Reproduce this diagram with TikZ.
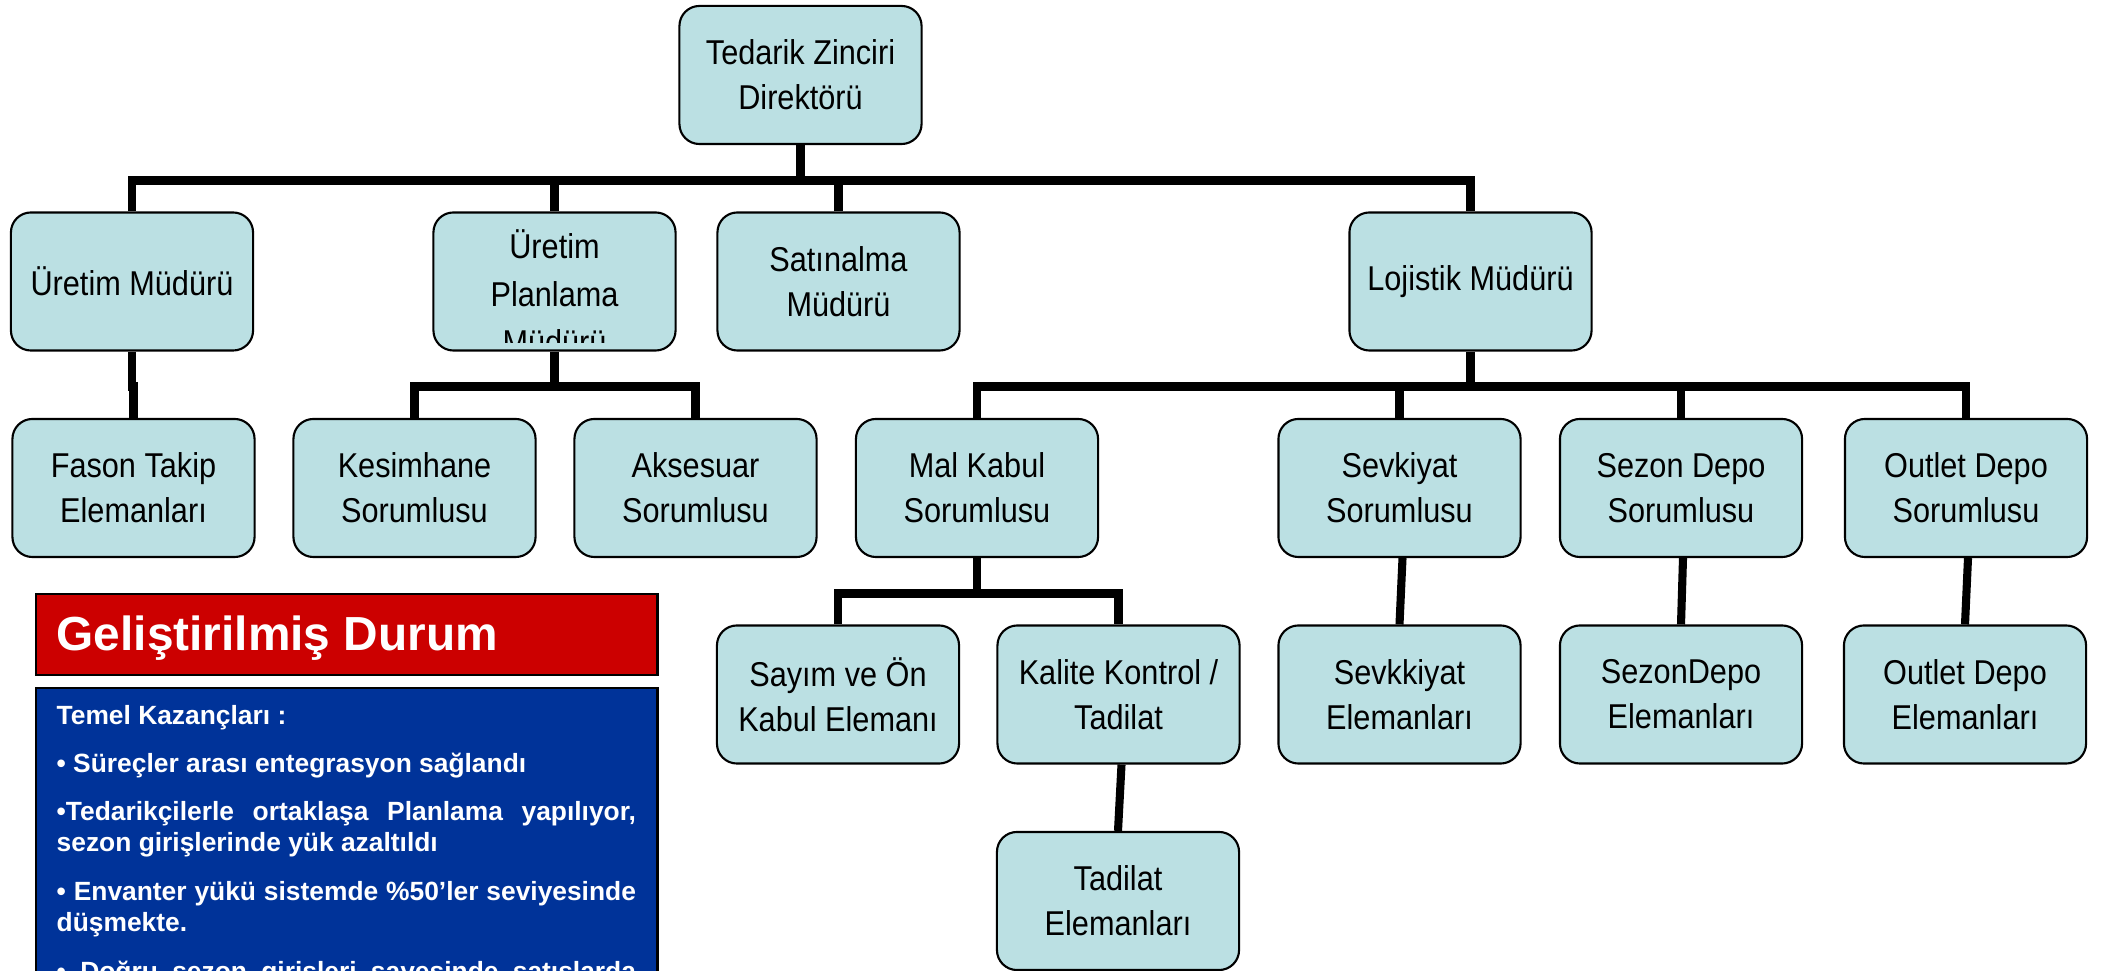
\documentclass[tikz,border=0pt]{standalone}
\usepackage{fontspec}
\setmainfont{Liberation Sans}
\newfontfamily\boxfont[FakeStretch=0.89]{Liberation Sans}
\definecolor{boxfill}{RGB}{187,224,227}
\definecolor{titlered}{RGB}{204,0,0}
\definecolor{panelblue}{RGB}{0,51,153}
\begin{document}
\begin{tikzpicture}[x=0.01cm,y=-0.01cm,
  unit/.style={draw=black, line width=0.6pt, fill=boxfill, rounded corners=0.2cm,
    minimum width=2.42cm, minimum height=1.38cm, inner sep=0pt, align=center,
    font=\boxfont\fontsize{9.8}{12.8}\selectfont},
  unittext/.style={anchor=base, inner sep=0pt, font=\boxfont\fontsize{9.8}{12.8}\selectfont},
  conn/.style={line width=2.3pt, draw=black},
  gain/.style={anchor=base west, inner sep=0pt, text=white,
    font=\bfseries\fontsize{7.5}{9}\selectfont},
  panel/.style={draw=black, line width=0.75pt, inner sep=0pt, minimum width=6.21cm},
]
\clip (0,0) rectangle (2103,971);
\useasboundingbox (0,0) rectangle (2103,971);

% bus levels
\coordinate (bus1) at (0,180.5);
\coordinate (bus2) at (0,386.5);
\coordinate (bus4) at (0,593.5);

% director
\node[unit] (dir) at (800.5,75) {Tedarik Zinciri\\Direktörü};

% managers
\node[unit] (um)  at (132,281.5)   {Üretim Müdürü};
\node[unit] (upm) at (554.5,281.5) {};
\node[unit] (sat) at (838.5,281.5) {Satınalma\\Müdürü};
\node[unit] (loj) at (1470.5,281.5) {Lojistik Müdürü};

% overflowing title inside the planning box
\begin{scope}
  \clip (434,212) rectangle (675,343);
  \node[unittext] (upm1) at (554.5,259) {Üretim};
  \node[unittext] (upm2) at (554.5,307) {Planlama};
  \node[unittext] (upm3) at (554.5,355) {Müdürü};
\end{scope}

% responsible persons
\node[unit] (fason)  at (133.5,488)  {Fason Takip\\Elemanları};
\node[unit] (kes)    at (414.5,488)  {Kesimhane\\Sorumlusu};
\node[unit] (aks)    at (695.5,488)  {Aksesuar\\Sorumlusu};
\node[unit] (mal)    at (977,488)    {Mal Kabul\\Sorumlusu};
\node[unit] (sevk)   at (1399.5,488) {Sevkiyat\\Sorumlusu};
\node[unit] (sezon)  at (1681,488)   {Sezon Depo\\Sorumlusu};
\node[unit] (outlet) at (1966,488)   {Outlet Depo\\Sorumlusu};

% staff
\node[unit] (sayim)  at (838,694.5)    {Sayım ve Ön\\Kabul Elemanı};
\node[unit] (kalite) at (1118.5,694.5) {Kalite Kontrol /\\Tadilat};
\node[unit] (sevkel) at (1399.5,694.5) {Sevkkiyat\\Elemanları};
\node[unit] (sezel)  at (1681,694.5)   {SezonDepo\\Elemanları};
\node[unit] (outel)  at (1965,694.5)   {Outlet Depo\\Elemanları};
\node[unit] (tadel)  at (1118,901)     {Tadilat\\Elemanları};

% connectors
\draw[conn] (dir.south) -- (dir.south |- bus1);
\draw[conn] (um.north) |- (loj.north |- bus1) -- (loj.north);
\draw[conn] (upm.north) -- (upm.north |- bus1);
\draw[conn] (sat.north) -- (sat.north |- bus1);

\draw[conn] (um.south) |- (fason.north |- bus2) -- (fason.north);

\draw[conn] (upm.south) -- (upm.south |- bus2);
\draw[conn] (kes.north) |- (aks.north |- bus2) -- (aks.north);

\draw[conn] (loj.south) -- (loj.south |- bus2);
\draw[conn] (mal.north) |- (outlet.north |- bus2) -- (outlet.north);
\draw[conn] (sevk.north) -- (sevk.north |- bus2);
\draw[conn] (sezon.north) -- (sezon.north |- bus2);

\draw[conn] (mal.south) -- (mal.south |- bus4);
\draw[conn] (sayim.north) |- (kalite.north |- bus4) -- (kalite.north);

\draw[conn] ([xshift=0.03cm]sevk.south) -- (sevkel.north);
\draw[conn] ([xshift=0.02cm]sezon.south) -- (sezel.north);
\draw[conn] ([xshift=0.02cm]outlet.south) -- (outel.north);
\draw[conn] ([xshift=0.03cm]kalite.south) -- (tadel.north);

% title panel
\node[panel, fill=titlered, minimum height=0.81cm] (title) at (346.5,634.5) {};
\node[anchor=base west, inner sep=0pt, text=white,
  font=\bfseries\fontsize{13.6}{15}\selectfont] (titletext) at (56,651) {Geliştirilmiş Durum};

% gains panel
\node[panel, fill=panelblue, minimum height=4.12cm] (gains) at (346.5,894) {};
\node[gain] (g1) at (56,725)   {Temel Kazançları :};
\node[gain] (g2) at (56,772.7) {• Süreçler arası entegrasyon sağlandı};
\node[gain] (g3) at (56,820.7) {\makebox[5.79cm][s]{•Tedarikçilerle ortaklaşa Planlama yapılıyor,}};
\node[gain] (g4) at (56,851.7) {sezon girişlerinde yük azaltıldı};
\node[gain] (g5) at (56,900.7) {\makebox[5.79cm][s]{• Envanter yükü sistemde \%50’ler seviyesinde}};
\node[gain] (g6) at (56,931.7) {düşmekte.};
\node[gain] (g7) at (56,981)   {\makebox[5.79cm][s]{• Doğru sezon girişleri sayesinde satışlarda}};
\end{tikzpicture}
\end{document}
